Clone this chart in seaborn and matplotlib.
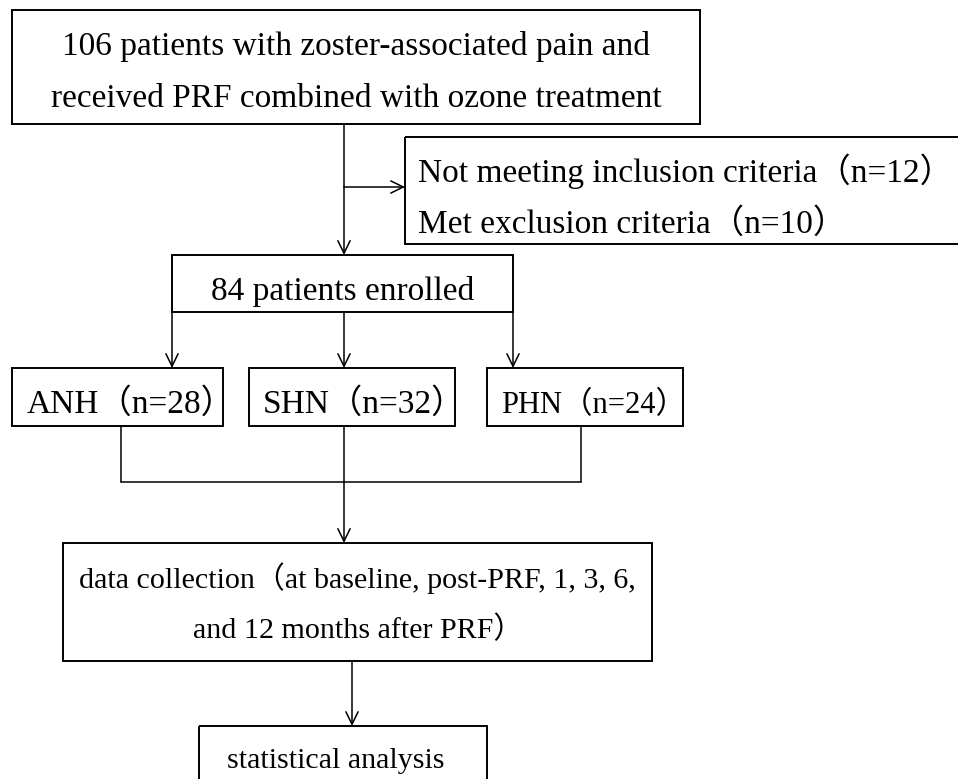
import matplotlib
matplotlib.use("Agg")
import matplotlib.pyplot as plt
from matplotlib.patches import Rectangle
import seaborn as sns
import pandas as pd

# ---- content ----
intake_lines = ["106 patients with zoster-associated pain and",
                "received PRF combined with ozone treatment"]
excluded_labels = ["Not meeting inclusion criteria", "Met exclusion criteria"]
excluded_n = [12, 10]
enrolled_n = 84
groups = ["ANH", "SHN", "PHN"]
group_n = [28, 32, 24]
collection_lines = ["data collection（at baseline, post-PRF, 1, 3, 6,",
                    "and 12 months after PRF）"]
analysis_label = "statistical analysis"

sns.set_theme(style="white")
plt.rcParams['font.family'] = ['Liberation Serif', 'Noto Sans CJK SC', 'DejaVu Sans']
FAM = ['Liberation Serif', 'Noto Sans CJK SC', 'DejaVu Sans']

fig = plt.figure(figsize=(9.58, 7.79), dpi=100)
ax = fig.add_axes([0, 0, 1, 1])

BOX_LW = 1.4
LINE_LW = 1.1
FS = 24

def box(x0, y0, x1, y1):
    ax.add_patch(Rectangle((x0, y0), x1 - x0, y1 - y0, fill=False,
                           edgecolor='black', lw=BOX_LW, zorder=3))

def text(x, y, s, ha='center', fs=FS):
    ax.text(x, y, s, ha=ha, va='baseline', fontsize=fs, family=FAM,
            color='black', zorder=4)

def arrow(x0, y0, x1, y1):
    ax.annotate('', xy=(x1, y1), xytext=(x0, y0),
                arrowprops=dict(arrowstyle='->,head_length=0.45,head_width=0.22',
                                lw=LINE_LW, color='black', shrinkA=0, shrinkB=0,
                                mutation_scale=20), zorder=2)

# connector segments (no arrowheads)
segs = pd.DataFrame({
    'seg': [0, 0, 1, 1, 2, 2, 3, 3, 4, 4],
    'x':   [344, 344, 121, 121, 344, 344, 581, 581, 121, 581],
    'y':   [124, 187, 426, 482, 426, 482, 426, 482, 482, 482],
})
sns.lineplot(data=segs, x='x', y='y', units='seg', estimator=None, sort=False,
             color='black', lw=LINE_LW, ax=ax, legend=False)
ax.set_xlim(0, 958)
ax.set_ylim(779, 0)
ax.axis('off')

# boxes
box(12, 10, 700, 124)
box(405, 137, 965, 244)
box(172, 255, 513, 312)
group_boxes = [(12, 223), (249, 455), (487, 683)]
group_text_x = [27, 263, 501]
group_fs = [24, 24, 22]
for (gx0, gx1) in group_boxes:
    box(gx0, 368, gx1, 426)
box(63, 543, 652, 661)
box(199, 726, 487, 800)

# texts
text(356, 55, intake_lines[0])
text(356, 107, intake_lines[1])
for i, (lab, n) in enumerate(zip(excluded_labels, excluded_n)):
    text(418, [182, 233][i], f"{lab}（n={n}）", ha='left')
text(342.5, 300, f"{enrolled_n} patients enrolled")
for i, (g, n) in enumerate(zip(groups, group_n)):
    text(group_text_x[i], 413, f"{g}（n={n}）", ha='left', fs=group_fs[i])
text(79, 588, collection_lines[0], ha='left', fs=21.6)
text(193, 638, collection_lines[1], ha='left', fs=21.6)
text(227, 768, analysis_label, ha='left', fs=21.6)

# arrows
arrow(344, 187, 344, 255)
arrow(344, 187, 405, 187)
arrow(172, 312, 172, 368)
arrow(344, 312, 344, 368)
arrow(513, 312, 513, 368)
arrow(344, 482, 344, 543)
arrow(352, 661, 352, 726)

fig.savefig('out.png', dpi=100, facecolor='white')
